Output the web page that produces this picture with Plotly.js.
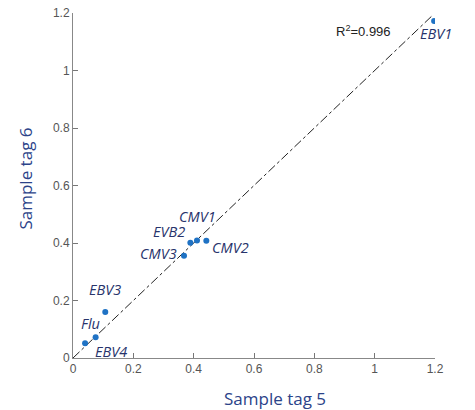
<!DOCTYPE html>
<html><head><meta charset="utf-8">
<script src="https://cdn.plot.ly/plotly-3.0.1.min.js"></script>
<style>body{margin:0;background:#fff}#c{width:475px;height:410px}</style>
</head><body><div id="c"></div>
<script>
const names = ["EBV4","Flu","EBV3","CMV3","EVB2","CMV1","CMV2","EBV1"];
const tag5 = [0.040,0.075,0.107,0.368,0.389,0.411,0.442,1.197];
const tag6 = [0.051,0.072,0.160,0.356,0.401,0.409,0.408,1.172];
const fitX = [0, 1.19];
const fitY = [0, 1.19];
const r2Text = "R<sup>2</sup>=0.996";
const tickVals = [0,0.2,0.4,0.6,0.8,1,1.2];
const tickText = ["0","0.2","0.4","0.6","0.8","1","1.2"];
// label offsets (px) and anchors
const lblOff = {
  EBV4:[8,-8,"left"], Flu:[-17,14,"left"], EBV3:[-18,23,"left"], CMV3:[-5,2,"right"],
  EVB2:[-3,11,"right"], CMV1:[1,24,"center"], CMV2:[4,-7,"left"], EBV1:[2,-12,"center"]
};
const annotations = names.map((n,i)=>({
  x: tag5[i], y: tag6[i], text: n, showarrow:false,
  xshift: lblOff[n][0], yshift: lblOff[n][1], xanchor: lblOff[n][2], yanchor:"middle",
  font:{family:"Open Sans", size:14.5, color:"#27336b", style:"italic"}
}));
annotations.push({x:1.06,y:1.137,text:r2Text,showarrow:false,xanchor:"right",yanchor:"middle",
  font:{family:"Liberation Sans",size:13,color:"#222"}});
annotations.push({xref:"paper",yref:"paper",x:0.558,y:-0.116,yanchor:"middle",xanchor:"center",showarrow:false,
  text:"Sample tag 5",font:{family:"Open Sans",size:17,color:"#2b4389"}});
annotations.push({xref:"paper",yref:"paper",x:-0.13,y:0.52,xanchor:"center",yanchor:"middle",showarrow:false,textangle:-90,
  text:"Sample tag 6",font:{family:"Open Sans",size:17,color:"#2b4389"}});
const traces = [
  {x:fitX,y:fitY,mode:"lines",line:{color:"#222",width:1,dash:"dashdot"},hoverinfo:"skip"},
  {x:tag5,y:tag6,mode:"markers",marker:{color:"#1f72c4",size:6},text:names}
];
const ax = {range:[0,1.2],tickvals:tickVals,ticktext:tickText,ticks:"inside",ticklen:5,tickcolor:"#777",
  showline:true,linecolor:"#888",linewidth:1,showgrid:false,zeroline:false,
  tickfont:{family:"Liberation Sans",size:12,color:"#555"}};
const layout = {
  width:475,height:410,margin:{l:73,r:40,t:13,b:52},showlegend:false,
  paper_bgcolor:"#fff",plot_bgcolor:"#fff",
  xaxis:Object.assign({},ax),yaxis:Object.assign({},ax),
  annotations:annotations
};
Plotly.newPlot("c",traces,layout,{displayModeBar:false,staticPlot:true});
</script></body></html>
